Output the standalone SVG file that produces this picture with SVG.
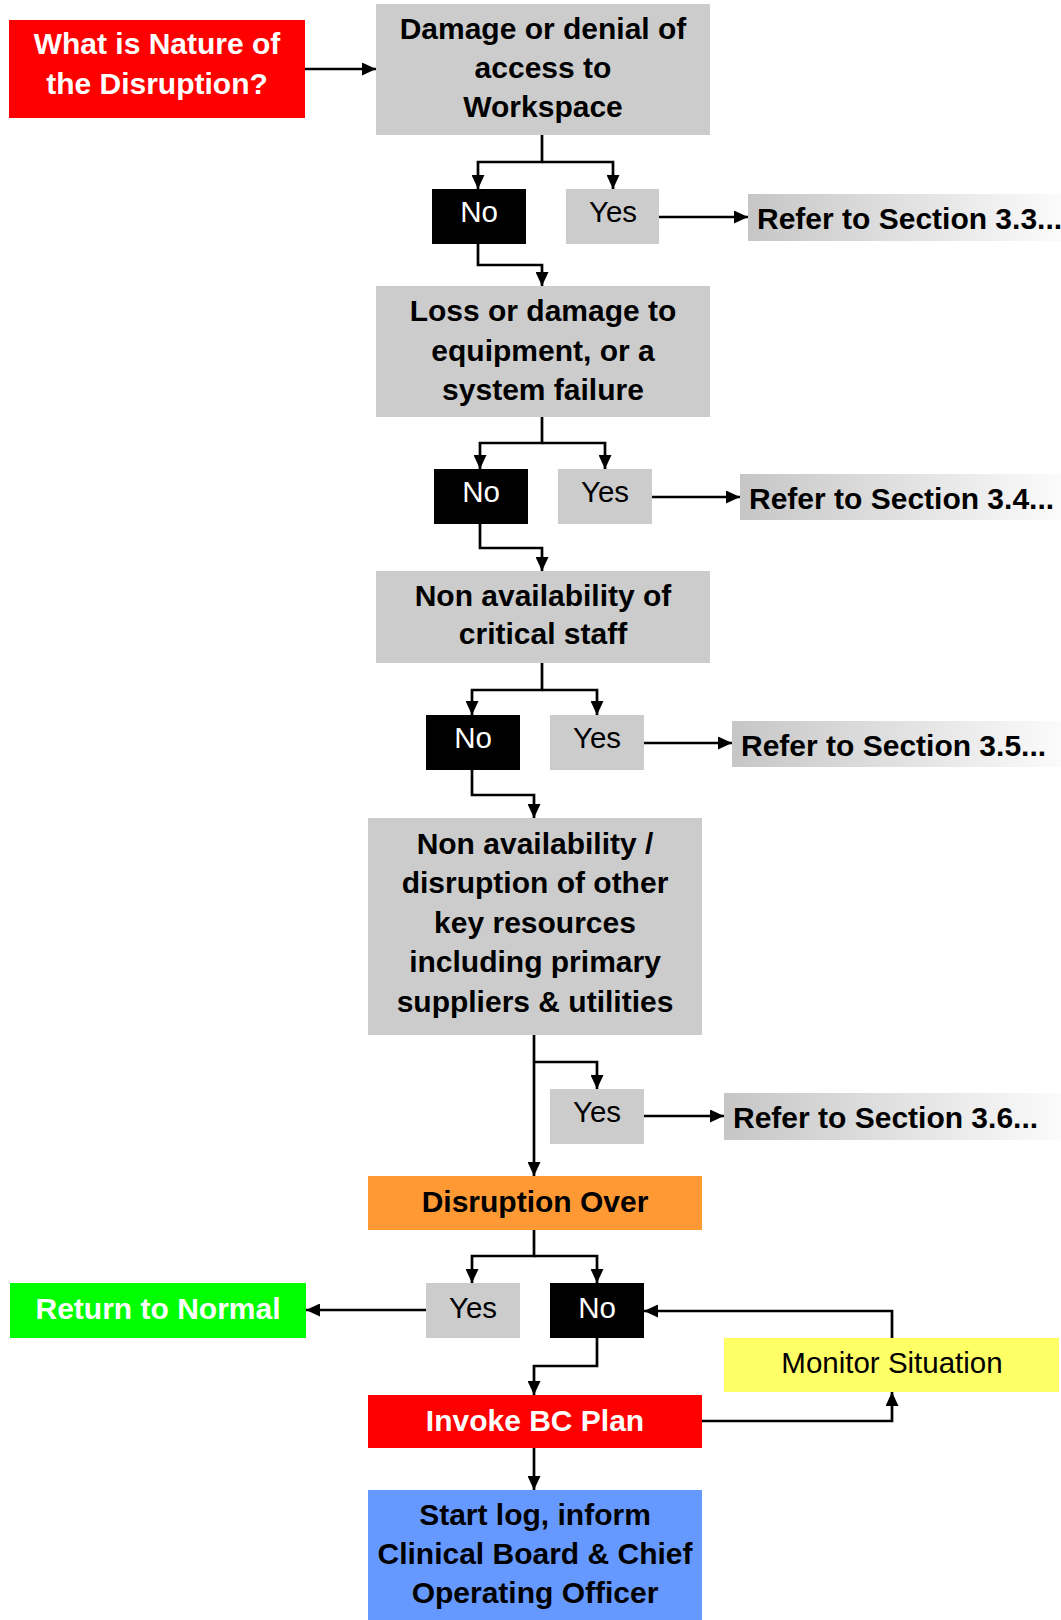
<svg xmlns="http://www.w3.org/2000/svg" width="1061" height="1620" viewBox="0 0 1061 1620">
<defs>
<marker id="ah" markerUnits="userSpaceOnUse" markerWidth="14" markerHeight="13" refX="14" refY="6.5" orient="auto">
<path d="M0,0 L14,6.5 L0,13 z" fill="#000"/>
</marker>
<linearGradient id="gr" x1="0" y1="0" x2="1" y2="0">
<stop offset="0" stop-color="#c6c6c6"/>
<stop offset="1" stop-color="#fbfbfb"/>
</linearGradient>
<style>
.b{font-family:"Liberation Sans",Arial,sans-serif;font-weight:bold;font-size:30px;text-anchor:middle}
.r{font-family:"Liberation Sans",Arial,sans-serif;font-size:29.5px;text-anchor:middle}
.rl{font-family:"Liberation Sans",Arial,sans-serif;font-weight:bold;font-size:30px}
.w{fill:#fff}
.k{fill:#000}
.gray{fill:#cccccc}
.blk{fill:#000}
.c{fill:none;stroke:#000;stroke-width:2.7}
</style>
</defs>
<rect width="1061" height="1620" fill="#fff"/>

<g id="connectors">
<path class="c" d="M305,69 H376" marker-end="url(#ah)"/>
<path class="c" d="M542,135 V162 H478 V189" marker-end="url(#ah)"/>
<path class="c" d="M542,162 H613 V189" marker-end="url(#ah)"/>
<path class="c" d="M659,217 H748" marker-end="url(#ah)"/>
<path class="c" d="M478,244 V265 H542 V286" marker-end="url(#ah)"/>
<path class="c" d="M542,417 V443 H480 V469" marker-end="url(#ah)"/>
<path class="c" d="M542,443 H605 V469" marker-end="url(#ah)"/>
<path class="c" d="M652,497 H740" marker-end="url(#ah)"/>
<path class="c" d="M480,524 V548 H542 V571" marker-end="url(#ah)"/>
<path class="c" d="M542,663 V690 H472 V715" marker-end="url(#ah)"/>
<path class="c" d="M542,690 H597 V715" marker-end="url(#ah)"/>
<path class="c" d="M644,743 H732" marker-end="url(#ah)"/>
<path class="c" d="M472,770 V795 H534 V818" marker-end="url(#ah)"/>
<path class="c" d="M534,1035 V1176" marker-end="url(#ah)"/>
<path class="c" d="M534,1062 H597 V1089" marker-end="url(#ah)"/>
<path class="c" d="M644,1116 H724" marker-end="url(#ah)"/>
<path class="c" d="M534,1230 V1256 H472 V1283" marker-end="url(#ah)"/>
<path class="c" d="M534,1256 H597 V1283" marker-end="url(#ah)"/>
<path class="c" d="M426,1310 H306" marker-end="url(#ah)"/>
<path class="c" d="M892,1338 V1311 H644" marker-end="url(#ah)"/>
<path class="c" d="M597,1338 V1366 H534 V1395" marker-end="url(#ah)"/>
<path class="c" d="M701,1421 H892 V1392" marker-end="url(#ah)"/>
<path class="c" d="M534,1448 V1490" marker-end="url(#ah)"/>
</g>

<g id="n-nature">
<rect x="9" y="20" width="296" height="98" fill="#ff0000"/>
<text class="b w" x="157" y="54">What is Nature of</text>
<text class="b w" x="157" y="94">the Disruption?</text>
</g>

<g id="n-damage">
<rect x="376" y="4" width="334" height="131" class="gray"/>
<text class="b k" x="543" y="39">Damage or denial of</text>
<text class="b k" x="543" y="78">access to</text>
<text class="b k" x="543" y="117">Workspace</text>
</g>

<g id="n-no1">
<rect x="432" y="189" width="94" height="55" class="blk"/>
<text class="r w" x="479" y="222">No</text>
</g>
<g id="n-yes1">
<rect x="566" y="189" width="93" height="55" class="gray"/>
<text class="r k" x="613" y="222">Yes</text>
</g>
<g id="n-ref33">
<rect x="748" y="194" width="313" height="47" fill="url(#gr)"/>
<text class="rl k" x="757" y="229">Refer to Section 3.3...</text>
</g>

<g id="n-loss">
<rect x="376" y="286" width="334" height="131" class="gray"/>
<text class="b k" x="543" y="321">Loss or damage to</text>
<text class="b k" x="543" y="361">equipment, or a</text>
<text class="b k" x="543" y="400">system failure</text>
</g>

<g id="n-no2">
<rect x="434" y="469" width="94" height="55" class="blk"/>
<text class="r w" x="481" y="502">No</text>
</g>
<g id="n-yes2">
<rect x="558" y="469" width="94" height="55" class="gray"/>
<text class="r k" x="605" y="502">Yes</text>
</g>
<g id="n-ref34">
<rect x="740" y="474" width="321" height="46" fill="url(#gr)"/>
<text class="rl k" x="749" y="509">Refer to Section 3.4...</text>
</g>

<g id="n-staff">
<rect x="376" y="571" width="334" height="92" class="gray"/>
<text class="b k" x="543" y="606">Non availability of</text>
<text class="b k" x="543" y="644">critical staff</text>
</g>

<g id="n-no3">
<rect x="426" y="715" width="94" height="55" class="blk"/>
<text class="r w" x="473" y="748">No</text>
</g>
<g id="n-yes3">
<rect x="550" y="715" width="94" height="55" class="gray"/>
<text class="r k" x="597" y="748">Yes</text>
</g>
<g id="n-ref35">
<rect x="732" y="721" width="329" height="46" fill="url(#gr)"/>
<text class="rl k" x="741" y="756">Refer to Section 3.5...</text>
</g>

<g id="n-resources">
<rect x="368" y="818" width="334" height="217" class="gray"/>
<text class="b k" x="535" y="854">Non availability /</text>
<text class="b k" x="535" y="893">disruption of other</text>
<text class="b k" x="535" y="933">key resources</text>
<text class="b k" x="535" y="972">including primary</text>
<text class="b k" x="535" y="1012">suppliers &amp; utilities</text>
</g>

<g id="n-yes4">
<rect x="550" y="1089" width="94" height="55" class="gray"/>
<text class="r k" x="597" y="1122">Yes</text>
</g>
<g id="n-ref36">
<rect x="724" y="1093" width="337" height="47" fill="url(#gr)"/>
<text class="rl k" x="733" y="1128">Refer to Section 3.6...</text>
</g>

<g id="n-over">
<rect x="368" y="1176" width="334" height="54" fill="#ff9933"/>
<text class="b k" x="535" y="1212">Disruption Over</text>
</g>

<g id="n-yes5">
<rect x="426" y="1283" width="94" height="55" class="gray"/>
<text class="r k" x="473" y="1318">Yes</text>
</g>
<g id="n-no5">
<rect x="550" y="1283" width="94" height="55" class="blk"/>
<text class="r w" x="597" y="1318">No</text>
</g>

<g id="n-normal">
<rect x="10" y="1283" width="296" height="55" fill="#00ff00"/>
<text class="b w" x="158" y="1319">Return to Normal</text>
</g>

<g id="n-monitor">
<rect x="724" y="1338" width="335" height="54" fill="#ffff66"/>
<text class="r k" x="892" y="1373">Monitor Situation</text>
</g>

<g id="n-invoke">
<rect x="368" y="1395" width="334" height="53" fill="#ff0000"/>
<text class="b w" x="535" y="1431">Invoke BC Plan</text>
</g>

<g id="n-start">
<rect x="368" y="1490" width="334" height="130" fill="#6699ff"/>
<text class="b k" x="535" y="1525">Start log, inform</text>
<text class="b k" x="535" y="1564">Clinical Board &amp; Chief</text>
<text class="b k" x="535" y="1603">Operating Officer</text>
</g>
</svg>
